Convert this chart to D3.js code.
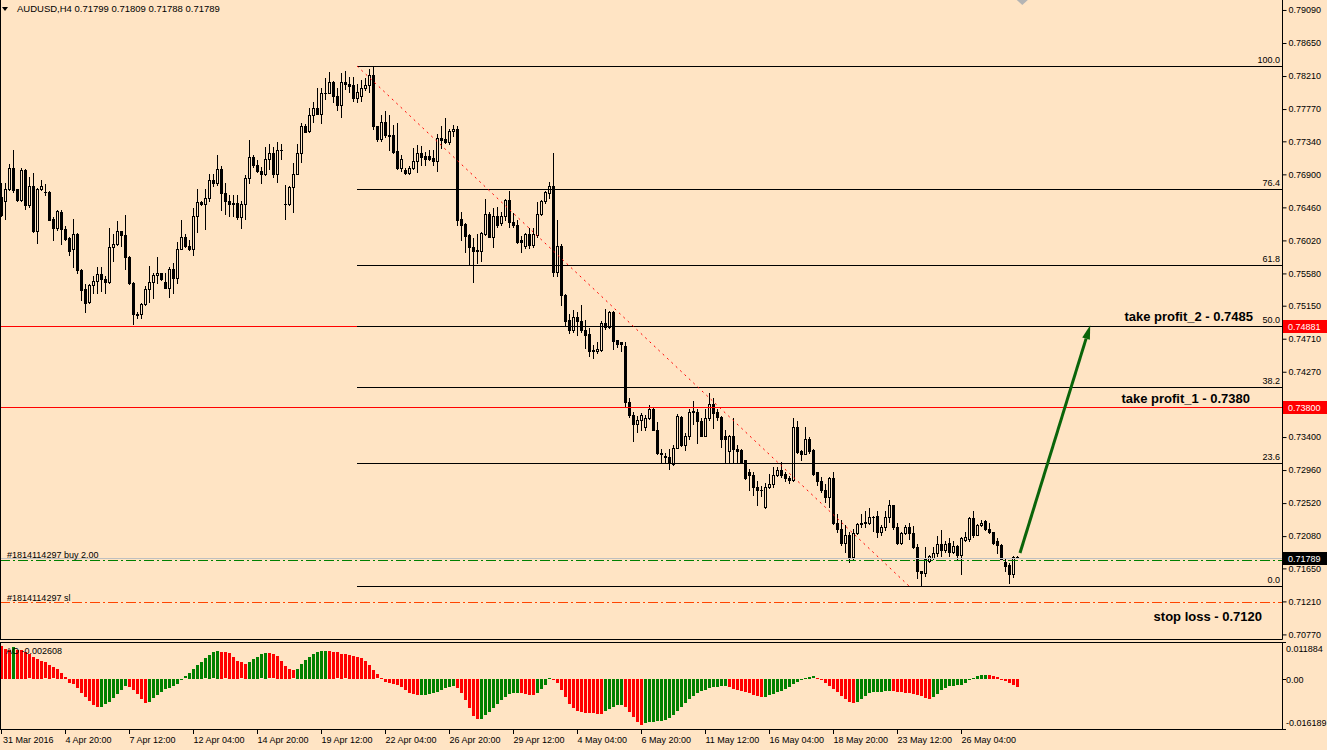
<!DOCTYPE html>
<html><head><meta charset="utf-8">
<script src="https://cdn.jsdelivr.net/npm/d3@7"></script>
<style>
html,body{margin:0;padding:0;background:#FFE4C4;}
svg{display:block;}
text{font-family:"Liberation Sans",Arial,sans-serif;}
</style></head><body>
<svg id="c" width="1327" height="750"></svg>
<script>
// ---------------- DATA ----------------
const symbol = "AUDUSD,H4";
const headerOHLC = ["0.71799","0.71809","0.71788","0.71789"];

const opens = [0.7660,0.7655,0.7670,0.7699,0.7670,0.7656,0.7696,0.7649,0.7674,0.7614,
0.7670,0.7667,0.7667,0.7631,0.7618,0.7640,0.7617,0.7605,0.7590,0.7611,
0.7563,0.7537,0.7520,0.7542,0.7548,0.7557,0.7550,0.7546,0.7593,0.7597,
0.7614,0.7609,0.7580,0.7545,0.7504,0.7504,0.7517,0.7537,0.7546,0.7556,
0.7558,0.7546,0.7539,0.7564,0.7552,0.7591,0.7607,0.7595,0.7591,0.7635,
0.7653,0.7650,0.7658,0.7682,0.7678,0.7697,0.7665,0.7655,0.7652,0.7652,
0.7633,0.7651,0.7685,0.7713,0.7702,0.7694,0.7690,0.7710,0.7718,0.7690,
0.7723,0.7651,0.7650,0.7673,0.7691,0.7718,0.7754,0.7748,0.7769,0.7779,
0.7771,0.7798,0.7799,0.7813,0.7795,0.7782,0.7813,0.7810,0.7809,0.7792,
0.7795,0.7805,0.7809,0.7822,0.7754,0.7737,0.7760,0.7743,0.7742,0.7721,
0.7698,0.7696,0.7692,0.7698,0.7708,0.7718,0.7714,0.7714,0.7712,0.7708,
0.7739,0.7737,0.7733,0.7748,0.7750,0.7631,0.7624,0.7609,0.7593,0.7589,
0.7588,0.7611,0.7637,0.7607,0.7634,0.7625,0.7634,0.7656,0.7626,0.7622,
0.7602,0.7595,0.7610,0.7596,0.7609,0.7637,0.7655,0.7665,0.7674,0.7560,
0.7595,0.7529,0.7496,0.7482,0.7500,0.7495,0.7483,0.7477,0.7456,0.7455,
0.7456,0.7492,0.7486,0.7507,0.7469,0.7466,0.7461,0.7387,0.7370,0.7357,
0.7363,0.7354,0.7365,0.7378,0.7349,0.7319,0.7315,0.7314,0.7304,0.7326,
0.7367,0.7329,0.7341,0.7374,0.7374,0.7361,0.7342,0.7365,0.7384,0.7374,
0.7367,0.7341,0.7321,0.7341,0.7324,0.7323,0.7309,0.7294,0.7289,0.7273,
0.7270,0.7247,0.7273,0.7278,0.7289,0.7296,0.7291,0.7285,0.7283,0.7354,
0.7321,0.7318,0.7338,0.7323,0.7293,0.7282,0.7270,0.7260,0.7286,0.7225,
0.7218,0.7199,0.7209,0.7180,0.7212,0.7224,0.7227,0.7225,0.7234,0.7235,
0.7214,0.7220,0.7234,0.7249,0.7220,0.7199,0.7212,0.7220,0.7212,0.7193,
0.7161,0.7159,0.7175,0.7179,0.7185,0.7198,0.7190,0.7199,0.7187,0.7195,
0.7183,0.7203,0.7204,0.7232,0.7210,0.7223,0.7228,0.7217,0.7213,0.7201,
0.7196,0.7173,0.7169,0.7157,0.71799];

const highs = [0.7678,0.7678,0.7704,0.7722,0.7671,0.7699,0.7697,0.7687,0.7692,0.7672,
0.7683,0.7677,0.7668,0.7633,0.7643,0.7642,0.7621,0.7607,0.7630,0.7612,
0.7564,0.7544,0.7544,0.7555,0.7567,0.7567,0.7554,0.7618,0.7611,0.7628,
0.7615,0.7636,0.7581,0.7546,0.7507,0.7518,0.7541,0.7568,0.7558,0.7580,
0.7559,0.7559,0.7567,0.7572,0.7600,0.7629,0.7611,0.7603,0.7645,0.7670,
0.7655,0.7670,0.7690,0.7690,0.7716,0.7701,0.7678,0.7663,0.7663,0.7663,
0.7654,0.7689,0.7736,0.7716,0.7709,0.7700,0.7726,0.7731,0.7727,0.7733,
0.7731,0.7676,0.7674,0.7705,0.7730,0.7758,0.7757,0.7778,0.7786,0.7805,
0.7805,0.7819,0.7826,0.7815,0.7805,0.7825,0.7828,0.7820,0.7820,0.7810,
0.7816,0.7818,0.7830,0.7834,0.7755,0.7769,0.7774,0.7769,0.7756,0.7759,
0.7716,0.7698,0.7701,0.7725,0.7729,0.7728,0.7720,0.7723,0.7722,0.7744,
0.7754,0.7765,0.7751,0.7756,0.7754,0.7640,0.7625,0.7611,0.7605,0.7611,
0.7613,0.7657,0.7640,0.7645,0.7646,0.7640,0.7657,0.7668,0.7639,0.7629,
0.7608,0.7612,0.7618,0.7618,0.7653,0.7656,0.7668,0.7680,0.7718,0.7629,
0.7597,0.7531,0.7504,0.7509,0.7506,0.7516,0.7496,0.7485,0.7463,0.7466,
0.7494,0.7511,0.7508,0.7508,0.7469,0.7467,0.7467,0.7392,0.7374,0.7368,
0.7372,0.7369,0.7383,0.7380,0.7360,0.7324,0.7319,0.7324,0.7329,0.7371,
0.7368,0.7345,0.7378,0.7388,0.7378,0.7365,0.7377,0.7399,0.7392,0.7377,
0.7368,0.7349,0.7343,0.7365,0.7329,0.7324,0.7310,0.7298,0.7294,0.7281,
0.7275,0.7279,0.7291,0.7300,0.7300,0.7307,0.7293,0.7288,0.7365,0.7362,
0.7323,0.7354,0.7340,0.7324,0.7294,0.7287,0.7277,0.7287,0.7294,0.7238,
0.7230,0.7223,0.7214,0.7217,0.7226,0.7237,0.7241,0.7246,0.7235,0.7241,
0.7223,0.7241,0.7256,0.7250,0.7225,0.7213,0.7223,0.7225,0.7221,0.7198,
0.7162,0.7193,0.7183,0.7194,0.7208,0.7216,0.7201,0.7205,0.7202,0.7196,
0.7207,0.7214,0.7233,0.7241,0.7224,0.7230,0.7230,0.7225,0.7214,0.7205,
0.7197,0.7178,0.7172,0.7181,0.71809];

const lows = [0.7634,0.7631,0.7669,0.7667,0.7654,0.7654,0.7644,0.7646,0.7613,0.7598,
0.7669,0.7663,0.7629,0.7603,0.7616,0.7597,0.7603,0.7582,0.7567,0.7558,
0.7523,0.7507,0.7519,0.7532,0.7532,0.7534,0.7532,0.7545,0.7574,0.7596,
0.7594,0.7564,0.7544,0.7490,0.7498,0.7498,0.7516,0.7520,0.7525,0.7545,
0.7549,0.7538,0.7526,0.7532,0.7545,0.7590,0.7593,0.7589,0.7583,0.7613,
0.7649,0.7617,0.7654,0.7674,0.7676,0.7643,0.7637,0.7634,0.7635,0.7631,
0.7618,0.7630,0.7678,0.7700,0.7693,0.7679,0.7689,0.7697,0.7687,0.7680,
0.7711,0.7630,0.7649,0.7640,0.7690,0.7706,0.7746,0.7746,0.7760,0.7770,
0.7759,0.7790,0.7799,0.7787,0.7776,0.7766,0.7804,0.7800,0.7788,0.7786,
0.7788,0.7803,0.7800,0.7751,0.7734,0.7735,0.7740,0.7722,0.7719,0.7697,
0.7694,0.7691,0.7690,0.7697,0.7693,0.7703,0.7703,0.7709,0.7703,0.7695,
0.7725,0.7732,0.7731,0.7741,0.7623,0.7603,0.7586,0.7569,0.7547,0.7572,
0.7575,0.7609,0.7606,0.7593,0.7620,0.7622,0.7629,0.7620,0.7620,0.7598,
0.7586,0.7592,0.7592,0.7593,0.7607,0.7636,0.7652,0.7658,0.7554,0.7554,
0.7516,0.7489,0.7479,0.7480,0.7476,0.7480,0.7458,0.7448,0.7445,0.7452,
0.7454,0.7484,0.7485,0.7457,0.7460,0.7455,0.7380,0.7367,0.7335,0.7347,
0.7349,0.7349,0.7364,0.7349,0.7318,0.7306,0.7305,0.7297,0.7303,0.7325,
0.7328,0.7323,0.7338,0.7358,0.7332,0.7341,0.7341,0.7363,0.7352,0.7363,
0.7327,0.7307,0.7307,0.7307,0.7307,0.7305,0.7284,0.7270,0.7263,0.7249,
0.7261,0.7246,0.7272,0.7274,0.7288,0.7287,0.7282,0.7279,0.7282,0.7319,
0.7309,0.7317,0.7319,0.7289,0.7276,0.7267,0.7253,0.7247,0.7224,0.7214,
0.7196,0.7187,0.7173,0.7178,0.7211,0.7220,0.7220,0.7224,0.7215,0.7207,
0.7210,0.7216,0.7227,0.7218,0.7198,0.7198,0.7211,0.7204,0.7192,0.7152,
0.7142,0.7155,0.7174,0.7178,0.7181,0.7181,0.7187,0.7181,0.7185,0.7177,
0.7158,0.7202,0.7201,0.7207,0.7209,0.7221,0.7216,0.7212,0.7198,0.7185,
0.7177,0.7161,0.7145,0.7154,0.71788];

const closes = [0.7636,0.7670,0.7699,0.7669,0.7656,0.7696,0.7649,0.7674,0.7614,0.7671,
0.7674,0.7666,0.7629,0.7618,0.7641,0.7617,0.7604,0.7588,0.7611,0.7562,
0.7536,0.7519,0.7542,0.7548,0.7557,0.7550,0.7546,0.7593,0.7597,0.7614,
0.7609,0.7580,0.7545,0.7504,0.7503,0.7517,0.7537,0.7546,0.7556,0.7558,
0.7550,0.7539,0.7564,0.7552,0.7591,0.7607,0.7594,0.7591,0.7635,0.7653,
0.7650,0.7658,0.7682,0.7678,0.7697,0.7665,0.7654,0.7650,0.7650,0.7633,
0.7651,0.7685,0.7713,0.7702,0.7694,0.7690,0.7710,0.7718,0.7690,0.7723,
0.7722,0.7650,0.7673,0.7691,0.7718,0.7754,0.7747,0.7769,0.7779,0.7771,
0.7798,0.7799,0.7813,0.7794,0.7782,0.7813,0.7810,0.7808,0.7792,0.7800,
0.7805,0.7809,0.7822,0.7754,0.7737,0.7760,0.7743,0.7741,0.7720,0.7698,
0.7711,0.7692,0.7698,0.7708,0.7718,0.7713,0.7711,0.7710,0.7708,0.7738,
0.7736,0.7733,0.7748,0.7751,0.7629,0.7622,0.7608,0.7593,0.7588,0.7588,
0.7612,0.7637,0.7607,0.7634,0.7622,0.7634,0.7656,0.7626,0.7622,0.7600,
0.7600,0.7610,0.7596,0.7610,0.7637,0.7655,0.7667,0.7675,0.7560,0.7595,
0.7529,0.7495,0.7482,0.7500,0.7495,0.7482,0.7476,0.7455,0.7455,0.7457,
0.7492,0.7486,0.7507,0.7468,0.7464,0.7464,0.7387,0.7370,0.7357,0.7363,
0.7369,0.7366,0.7378,0.7349,0.7319,0.7317,0.7313,0.7305,0.7326,0.7368,
0.7329,0.7341,0.7374,0.7375,0.7361,0.7342,0.7365,0.7384,0.7372,0.7367,
0.7338,0.7337,0.7341,0.7324,0.7322,0.7307,0.7285,0.7289,0.7273,0.7269,
0.7269,0.7273,0.7278,0.7289,0.7296,0.7289,0.7285,0.7283,0.7354,0.7320,
0.7318,0.7338,0.7321,0.7291,0.7282,0.7269,0.7260,0.7286,0.7225,0.7217,
0.7199,0.7209,0.7180,0.7212,0.7224,0.7226,0.7225,0.7234,0.7233,0.7214,
0.7220,0.7234,0.7249,0.7220,0.7199,0.7212,0.7220,0.7212,0.7193,0.7161,
0.7159,0.7177,0.7181,0.7185,0.7198,0.7190,0.7198,0.7187,0.7195,0.7183,
0.7206,0.7207,0.7232,0.7210,0.7223,0.7226,0.7217,0.7213,0.7199,0.7196,
0.7178,0.7168,0.7157,0.7180,0.71789];

const aoValues = [0.0107,0.0096,0.0094,0.0102,0.0094,0.0093,0.0087,0.0079,0.0072,0.0063,
0.0059,0.0053,0.0045,0.0037,0.0031,0.0020,0.0005,-0.0012,-0.0016,-0.0030,
-0.0044,-0.0059,-0.0071,-0.0084,-0.0090,-0.0089,-0.0082,-0.0073,-0.0062,-0.0049,
-0.0036,-0.0023,-0.0025,-0.0036,-0.0049,-0.0066,-0.0076,-0.0073,-0.0062,-0.0052,
-0.0041,-0.0033,-0.0028,-0.0023,-0.0017,-0.0003,0.0008,0.0018,0.0031,0.0044,
0.0055,0.0066,0.0076,0.0085,0.0090,0.0087,0.0085,0.0083,0.0070,0.0059,
0.0053,0.0048,0.0055,0.0063,0.0072,0.0079,0.0083,0.0082,0.0079,0.0074,
0.0059,0.0042,0.0031,0.0027,0.0033,0.0048,0.0061,0.0072,0.0081,0.0087,
0.0090,0.0091,0.0089,0.0087,0.0085,0.0081,0.0079,0.0076,0.0075,0.0072,
0.0068,0.0059,0.0046,0.0029,0.0014,0.0003,-0.0010,-0.0014,-0.0016,-0.0020,
-0.0025,-0.0036,-0.0044,-0.0049,-0.0053,-0.0052,-0.0051,-0.0049,-0.0046,-0.0042,
-0.0036,-0.0029,-0.0025,-0.0022,-0.0030,-0.0046,-0.0068,-0.0095,-0.0119,-0.0129,
-0.0128,-0.0117,-0.0107,-0.0095,-0.0082,-0.0069,-0.0057,-0.0049,-0.0046,-0.0044,
-0.0046,-0.0049,-0.0052,-0.0053,-0.0044,-0.0033,-0.0018,0.0003,-0.0003,-0.0014,
-0.0036,-0.0059,-0.0081,-0.0095,-0.0102,-0.0107,-0.0109,-0.0110,-0.0111,-0.0112,
-0.0113,-0.0104,-0.0096,-0.0089,-0.0085,-0.0083,-0.0089,-0.0105,-0.0124,-0.0139,
-0.0148,-0.0143,-0.0140,-0.0138,-0.0136,-0.0135,-0.0132,-0.0126,-0.0115,-0.0102,
-0.0089,-0.0076,-0.0065,-0.0055,-0.0046,-0.0040,-0.0034,-0.0030,-0.0027,-0.0025,
-0.0023,-0.0022,-0.0026,-0.0031,-0.0036,-0.0040,-0.0043,-0.0046,-0.0051,-0.0056,
-0.0059,-0.0057,-0.0053,-0.0047,-0.0043,-0.0039,-0.0032,-0.0025,-0.0016,-0.0009,
-0.0002,0.0003,0.0006,0.0008,0.0002,-0.0003,-0.0012,-0.0023,-0.0032,-0.0043,
-0.0054,-0.0065,-0.0073,-0.0079,-0.0074,-0.0066,-0.0055,-0.0046,-0.0043,-0.0042,
-0.0041,-0.0040,-0.0038,-0.0039,-0.0041,-0.0043,-0.0044,-0.0046,-0.0048,-0.0052,
-0.0056,-0.0060,-0.0063,-0.0057,-0.0047,-0.0037,-0.0028,-0.0024,-0.0022,-0.0020,
-0.0018,-0.0012,-0.0004,0.0003,0.0009,0.0012,0.0013,0.0012,0.0010,0.0005,
0.0000,-0.0006,-0.0013,-0.0020,-0.002608];
const aoLabel = "AO -0.002608";

const dateTickIndex = [0,16,32,48,64,80,96,112,128,144,160,176,192,208,224,240];
const dateTickLabels = ["31 Mar 2016","4 Apr 20:00","7 Apr 12:00","12 Apr 04:00","14 Apr 20:00",
 "19 Apr 12:00","22 Apr 04:00","26 Apr 20:00","29 Apr 12:00","4 May 04:00","6 May 20:00",
 "11 May 12:00","16 May 04:00","18 May 20:00","23 May 12:00","26 May 04:00"];

const priceTicks = [0.79090,0.78650,0.78210,0.77770,0.77340,0.76900,0.76460,0.76020,0.75580,
 0.75150,0.74710,0.74270,0.73400,0.72960,0.72520,0.72080,0.71650,0.71210,0.70770];
const aoTicks = [0.011884,0,-0.016189];
const aoTickLabels = ["0.011884","0.00","-0.016189"];

const fibHigh = 0.78344, fibLow = 0.71415, fibStartIndex = 89, fibEndIndex = 227;
const fibLevels = [0, 23.6, 38.2, 50, 61.8, 76.4, 100];

const takeProfitLines = [0.74881, 0.73800];
const bidPrice = 0.71789;
const orderPrice = 0.71765;
const stopPrice = 0.7120;
const orderLabels = ["#1814114297 buy 2.00", "#1814114297 sl"];
const noteTexts = ["take profit_2 - 0.7485", "take profit_1 - 0.7380", "stop loss - 0.7120"];
const notePrices = [0.7494, 0.7385, 0.7095];
const arrowFrom = [254.75, 0.71855], arrowTo = [272.3, 0.7489];

// ---------------- SCALES ----------------
const BG = "#FFE4C4";
const W = 1327, H = 750, axisX = 1282;
const svg = d3.select("#c");
const x = d3.scaleLinear().domain([0, 254]).range([1, 1017]);
const y = d3.scaleLinear().domain([0.70709, 0.79223]).range([639, 0]);
const yAO = d3.scaleLinear().domain([-0.016189, 0.011884]).range([729, 642]);

svg.append("rect").attr("width", W).attr("height", H).attr("fill", BG);

const main = svg.append("g");
const n = closes.length;
const cols = d3.range(n).map(i => Math.round(x(i)));

// candles
const cg = main.append("g");
for (let i = 0; i < n; i++) {
  const cx = cols[i], o = opens[i], c = closes[i];
  const yh = Math.round(y(highs[i])), yl = Math.round(y(lows[i]));
  const yt = Math.round(y(Math.max(o, c))), yb = Math.round(y(Math.min(o, c)));
  cg.append("line").attr("x1", cx + 0.5).attr("x2", cx + 0.5).attr("y1", yh).attr("y2", yl + 1)
    .attr("stroke", "#000").attr("stroke-width", 1);
  if (c < o) {
    cg.append("rect").attr("x", cx - 1).attr("y", yt).attr("width", 3).attr("height", Math.max(1, yb - yt + 1)).attr("fill", "#000");
  } else if (yb - yt < 1) {
    cg.append("rect").attr("x", cx - 1).attr("y", yt).attr("width", 3).attr("height", 1).attr("fill", "#000");
  } else {
    cg.append("rect").attr("x", cx - 0.5).attr("y", yt + 0.5).attr("width", 2).attr("height", yb - yt)
      .attr("fill", BG).attr("stroke", "#000").attr("stroke-width", 1);
  }
}

// horizontal objects
function hline(p, x1, x2, color, dash) {
  const yy = Math.round(y(p)) + 0.5;
  const l = main.append("line").attr("x1", x1).attr("x2", x2).attr("y1", yy).attr("y2", yy)
    .attr("stroke", color).attr("stroke-width", 1);
  if (dash) l.attr("stroke-dasharray", dash);
  return yy;
}
takeProfitLines.forEach(p => hline(p, 0, axisX, "#FF0000"));
hline(bidPrice, 0, axisX, "#C0C0C0");
hline(orderPrice, 0, axisX, "#008000", "10,3,2,3");
hline(stopPrice, 0, axisX, "#FF4500", "10,3,2,3");

// fibonacci
const fx0 = Math.round(x(fibStartIndex));
fibLevels.forEach(l => {
  const p = fibLow + (fibHigh - fibLow) * l / 100;
  const yy = hline(p, fx0, axisX, "#000");
  main.append("text").attr("x", 1280).attr("y", yy - 3.5).attr("text-anchor", "end")
    .attr("font-size", 9).attr("fill", "#000").text(l.toFixed(1));
});
main.append("line").attr("x1", x(fibStartIndex)).attr("y1", y(fibHigh))
  .attr("x2", x(fibEndIndex)).attr("y2", y(fibLow))
  .attr("stroke", "#FF0000").attr("stroke-width", 1).attr("stroke-dasharray", "2,4");

// order labels
main.append("text").attr("x", 7).attr("y", Math.round(y(orderPrice)) - 2.5).attr("font-size", 9).text(orderLabels[0]);
main.append("text").attr("x", 7).attr("y", Math.round(y(stopPrice)) - 1.5).attr("font-size", 9).text(orderLabels[1]);

// notes
const noteRight = [1253, 1250, 1262];
noteTexts.forEach((t, k) => {
  main.append("text").attr("x", noteRight[k]).attr("y", y(notePrices[k])).attr("text-anchor", "end")
    .attr("font-size", 13).attr("font-weight", "bold").attr("fill", "#000").text(t);
});

// arrow
const ax1 = x(arrowFrom[0]), ay1 = y(arrowFrom[1]), ax2 = x(arrowTo[0]), ay2 = y(arrowTo[1]);
const ang = Math.atan2(ay2 - ay1, ax2 - ax1);
const hl = 14, hw = 4;
const bx = ax2 - hl * Math.cos(ang), by = ay2 - hl * Math.sin(ang);
main.append("line").attr("x1", ax1).attr("y1", ay1).attr("x2", bx).attr("y2", by)
  .attr("stroke", "#0A640A").attr("stroke-width", 3);
main.append("path").attr("d", `M${ax2},${ay2}L${bx + hw * Math.sin(ang)},${by - hw * Math.cos(ang)}L${bx - hw * Math.sin(ang)},${by + hw * Math.cos(ang)}Z`)
  .attr("fill", "#0A640A");

// header
svg.append("path").attr("d", "M2,7L8,7L5,11Z").attr("fill", "#000");
svg.append("text").attr("x", 17).attr("y", 11.5).attr("font-size", 9.5)
  .text(symbol + "  " + headerOHLC.join(" "));
// shift marker
svg.append("path").attr("d", `M${x(255.2) - 5},0L${x(255.2) + 6},0L${x(255.2) + 0.5},5Z`).attr("fill", "#B4B4B4");

// AO bars
const ag = svg.append("g");
const z0 = yAO(0);
aoValues.forEach((v, i) => {
  const up = i > 0 && v > aoValues[i - 1];
  const yv = yAO(v);
  ag.append("rect").attr("x", cols[i] - 1).attr("width", 3)
    .attr("y", Math.round(Math.min(yv, z0))).attr("height", Math.max(1, Math.round(Math.abs(yv - z0))))
    .attr("fill", up ? "#008000" : "#FF0000");
});
svg.append("text").attr("x", 6).attr("y", 654).attr("font-size", 9).text(aoLabel);

// frames
const fr = svg.append("g").attr("stroke", "#000").attr("stroke-width", 1);
fr.append("line").attr("x1", 0.5).attr("x2", 0.5).attr("y1", 0).attr("y2", 639.5);
fr.append("line").attr("x1", 0.5).attr("x2", 0.5).attr("y1", 642.5).attr("y2", 729.5);
fr.append("line").attr("x1", 0).attr("x2", axisX + 0.5).attr("y1", 639.5).attr("y2", 639.5);
fr.append("line").attr("x1", 0).attr("x2", axisX + 0.5).attr("y1", 642.5).attr("y2", 642.5);
fr.append("line").attr("x1", 0).attr("x2", axisX + 0.5).attr("y1", 729.5).attr("y2", 729.5);
fr.append("line").attr("x1", axisX + 0.5).attr("x2", axisX + 0.5).attr("y1", 0).attr("y2", 639.5);
fr.append("line").attr("x1", axisX + 0.5).attr("x2", axisX + 0.5).attr("y1", 642.5).attr("y2", 729.5);

// price axis
const yAxis = d3.axisRight(y).tickValues(priceTicks).tickSize(4).tickPadding(2).tickFormat(d3.format(".5f"));
const ya = svg.append("g").attr("transform", `translate(${axisX + 0.5},0)`).call(yAxis);
ya.select(".domain").remove();
ya.selectAll("text").attr("font-size", 9).attr("font-family", "Liberation Sans, Arial, sans-serif").attr("fill", "#000");
ya.selectAll("line").attr("stroke", "#000");

// price boxes
function box(p, color) {
  const yy = Math.round(y(p));
  svg.append("rect").attr("x", 1283).attr("y", yy - 6).attr("width", 44).attr("height", 13).attr("fill", color);
  svg.append("text").attr("x", 1288).attr("y", yy + 3.5).attr("font-size", 9).attr("fill", "#fff").text(p.toFixed(5));
}
takeProfitLines.forEach(p => box(p, "#FF0000"));
box(bidPrice, "#000");

// AO axis
aoTicks.forEach((t, k) => {
  const yy = Math.round(yAO(t)) + 0.5;
  svg.append("line").attr("x1", axisX).attr("x2", axisX + 4).attr("y1", yy).attr("y2", yy).attr("stroke", "#000");
  const ty = k === 0 ? 651.5 : (k === 2 ? 726 : yy + 3.5);
  svg.append("text").attr("x", 1286).attr("y", ty).attr("font-size", 9).text(aoTickLabels[k]);
});

// time axis
const tg = svg.append("g");
dateTickIndex.forEach((idx, k) => {
  const cx = cols[idx] + 0.5;
  tg.append("line").attr("x1", cx).attr("x2", cx).attr("y1", 729).attr("y2", 734).attr("stroke", "#000");
  tg.append("text").attr("x", k === 0 ? 3 : cx).attr("y", 743).attr("font-size", 9).text(dateTickLabels[k]);
});
</script>
</body></html>
